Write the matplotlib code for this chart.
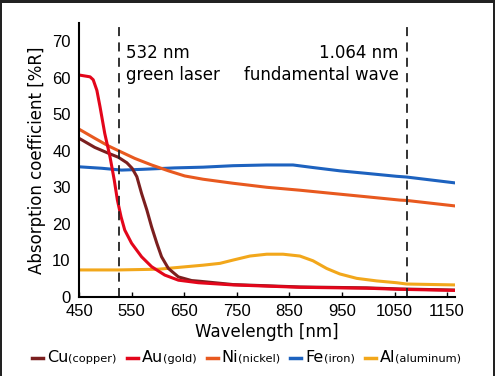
import matplotlib
matplotlib.use("Agg")
import matplotlib.pyplot as plt
from matplotlib.lines import Line2D
from matplotlib.patches import Rectangle

# wavelength [nm] / absorption [%R]
cu_x = [450, 480, 506, 525, 541, 551, 560, 569, 579, 588, 598, 607, 620, 639, 664, 680, 743, 870, 997, 1060, 1165]
cu_y = [43.4, 40.9, 39.3, 38.2, 36.7, 35.2, 32.9, 28.3, 23.8, 19.2, 14.7, 11.0, 7.8, 5.5, 4.5, 4.3, 3.4, 2.75, 2.5, 2.2, 1.9]

au_x = [450, 471, 477, 484, 490, 499, 509, 517, 523, 530, 537, 550, 569, 588, 613, 639, 677, 743, 870, 997, 1060, 1165]
au_y = [60.7, 60.2, 59.4, 56.5, 52.0, 44.7, 38.3, 32.0, 26.5, 21.9, 18.3, 14.7, 11.0, 8.3, 6.0, 4.6, 3.9, 3.3, 2.65, 2.4, 2.1, 1.8]

ni_x = [450, 480, 506, 525, 556, 588, 620, 651, 686, 743, 807, 870, 933, 997, 1060, 1073, 1165]
ni_y = [45.9, 43.4, 41.3, 40.0, 37.9, 36.1, 34.5, 33.1, 32.2, 31.1, 30.0, 29.2, 28.3, 27.4, 26.5, 26.4, 24.9]

fe_x = [450, 493, 531, 569, 632, 686, 743, 807, 857, 895, 946, 997, 1054, 1073, 1165]
fe_y = [35.6, 35.2, 34.7, 34.9, 35.3, 35.5, 35.9, 36.1, 36.1, 35.4, 34.5, 33.8, 33.0, 32.8, 31.2]

al_x = [450, 525, 601, 686, 718, 743, 775, 807, 838, 870, 895, 921, 946, 978, 1016, 1054, 1073, 1165]
al_y = [7.4, 7.4, 7.6, 8.7, 9.2, 10.1, 11.2, 11.7, 11.7, 11.2, 9.9, 7.8, 6.3, 5.1, 4.4, 3.9, 3.55, 3.3]

series = [
    ("Fe", "(iron)", fe_x, fe_y, "#1d62bf"),
    ("Al", "(aluminum)", al_x, al_y, "#f2a71b"),
    ("Ni", "(nickel)", ni_x, ni_y, "#e8591f"),
    ("Cu", "(copper)", cu_x, cu_y, "#7b1f1f"),
    ("Au", "(gold)", au_x, au_y, "#e3061b"),
]
legend_order = ["Cu", "Au", "Ni", "Fe", "Al"]

laser_pos = [526, 1073]   # where the dashed markers sit in the picture
xticks = [450, 550, 650, 750, 850, 950, 1050, 1150]
yticks = [0, 10, 20, 30, 40, 50, 60, 70]

fig = plt.figure(figsize=(4.95, 3.76), dpi=100)
ax = fig.add_axes([79 / 495, 1 - 297 / 376, 376 / 495, 274.3 / 376])

for sym, name, xs, ys, col in series:
    ax.plot(xs, ys, color=col, lw=2.2, solid_joinstyle="round")

for xv in laser_pos:
    ax.axvline(xv, color="#222222", lw=1.3, dashes=(5, 3.5))

ax.set_xlim(450, 1165)
ax.set_ylim(0, 75)
ax.set_xticks(xticks)
ax.set_yticks(yticks)
ax.tick_params(axis="x", direction="in", length=3.5, width=1, pad=5,
               labelsize=12)
ax.tick_params(axis="y", length=0, pad=6, labelsize=12)
for lab in ax.get_xticklabels() + ax.get_yticklabels():
    lab.set_family("Liberation Sans")
for s in ["top", "right"]:
    ax.spines[s].set_visible(False)
for s in ["left", "bottom"]:
    ax.spines[s].set_linewidth(1.5)

ax.set_xlabel("Wavelength [nm]", fontsize=12, labelpad=3)
ax.set_ylabel("Absorption coefficient [%R]", fontsize=12, labelpad=4)

ax.text(540, 66.7, "532 nm", fontsize=12, va="center", ha="left")
ax.text(540, 60.6, "green laser", fontsize=12, va="center", ha="left")
ax.text(1058, 66.7, "1.064 nm", fontsize=12, va="center", ha="right")
ax.text(1058, 60.6, "fundamental wave", fontsize=12, va="center", ha="right")

# legend row built by hand (symbol big, name small)
fig.canvas.draw()
r = fig.canvas.get_renderer()
W, H = 495, 376
x = 32.0
ly = 376 - 358
lookup = {s[0]: s for s in series}
for sym in legend_order:
    _, name, _, _, col = lookup[sym]
    fig.add_artist(Line2D([x / W, (x + 11) / W], [ly / H, ly / H],
                          color=col, lw=2.5, transform=fig.transFigure))
    x += 15
    t1 = fig.text(x / W, ly / H, sym, fontsize=11.5, va="center", ha="left")
    x += t1.get_window_extent(r).width
    t2 = fig.text(x / W, ly / H - 0.002, name, fontsize=8.2, va="center",
                  ha="left")
    x += t2.get_window_extent(r).width + 10

# dark screenshot frame
fig.add_artist(Rectangle((0, 1 - 3 / H), 1, 3 / H, color="#222222",
                         transform=fig.transFigure, lw=0))
fig.add_artist(Rectangle((0, 0), 1.5 / W, 1, color="#222222",
                         transform=fig.transFigure, lw=0))
fig.add_artist(Rectangle((1 - 2 / W, 0), 2 / W, 1, color="#222222",
                         transform=fig.transFigure, lw=0))

fig.savefig("out.png", dpi=100)
